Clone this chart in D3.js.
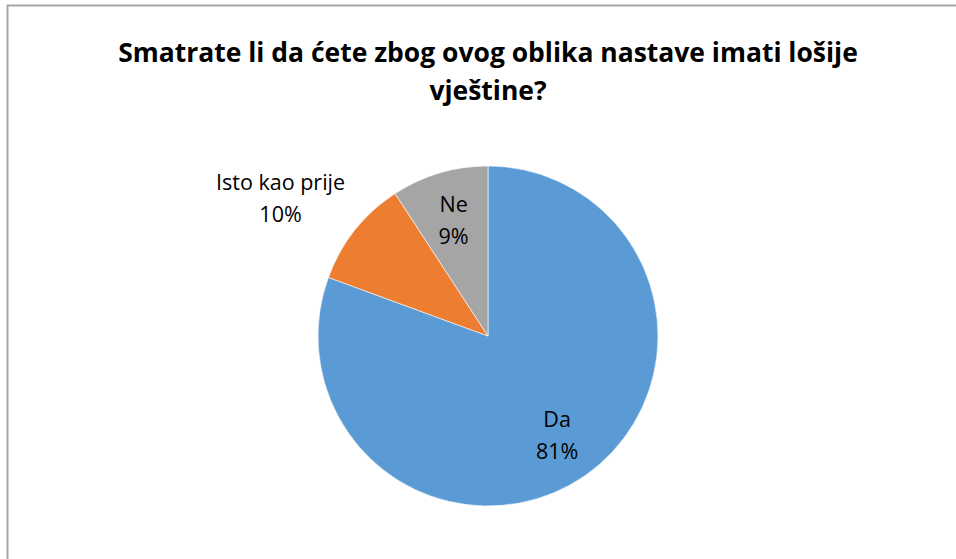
<!DOCTYPE html>
<html>
<head>
<meta charset="utf-8">
<script src="https://cdn.jsdelivr.net/npm/d3@7"></script>
<style>
  body { margin: 0; background: #fff; }
  svg { display: block; }
</style>
</head>
<body>
<div id="chart"></div>
<script>
// data
var categories = ["Da", "Isto kao prije", "Ne"];
var shares = [80.6, 10.2, 9.2];
var pctLabels = ["81%", "10%", "9%"];
var colors = ["#5B9BD5", "#ED7D31", "#A5A5A5"];
var titleLines = ["Smatrate li da ćete zbog ovog oblika nastave imati lošije", "vještine?"];

var width = 956, height = 559;
var cx = 488, cy = 336, radius = 170;

var svg = d3.select("#chart").append("svg")
  .attr("width", width)
  .attr("height", height);

// chart frame (right and bottom edges fall outside the picture)
svg.append("rect")
  .attr("x", 7.5).attr("y", 5.5)
  .attr("width", 1000).attr("height", 600)
  .attr("fill", "none")
  .attr("stroke", "#a6a6a6")
  .attr("stroke-width", 2);

// title
var title = svg.append("g");
title.selectAll("text")
  .data(titleLines)
  .enter().append("text")
  .attr("x", cx)
  .attr("y", function(d, i) { return 62 + i * 38; })
  .attr("text-anchor", "middle")
  .style("font-family", "'Open Sans', 'Liberation Sans', sans-serif")
  .style("font-weight", "bold")
  .style("font-size", "24px")
  .style("fill", "#000")
  .text(function(d) { return d; });

// squeeze the first line to the reference width
var first = title.select("text").node();
var w = first.getComputedTextLength();
var fs = 24 * 740 / w;
title.selectAll("text").style("font-size", fs + "px");

var pie = d3.pie().sort(null).value(function(d) { return d; });
var arcs = pie(shares);

var arc = d3.arc().innerRadius(0).outerRadius(radius);
var inArc = d3.arc().innerRadius(radius * 0.71).outerRadius(radius * 0.71);
var outArc = d3.arc().innerRadius(radius * 1.3).outerRadius(radius * 1.3);

var g = svg.append("g")
  .attr("transform", "translate(" + cx + "," + cy + ")");

g.selectAll("path")
  .data(arcs)
  .enter().append("path")
  .attr("d", arc)
  .attr("fill", function(d, i) { return colors[i]; })
  .attr("stroke", "#fff")
  .attr("stroke-width", 0.6);

// labels: slices big enough get them inside, the middle one outside
var lab = g.selectAll(".lab")
  .data(arcs)
  .enter().append("text")
  .attr("class", "lab")
  .attr("text-anchor", "middle")
  .style("font-family", "'Open Sans', 'Liberation Sans', sans-serif")
  .style("font-size", "21.5px")
  .style("fill", "#000");

lab.each(function(d, i) {
  var t = d3.select(this);
  var p;
  if (i == 1) {
    p = outArc.centroid(d);
  } else {
    p = inArc.centroid(d);
  }
  t.append("tspan").attr("x", 0).attr("dy", -8).text(categories[i]);
  t.append("tspan").attr("x", 0).attr("dy", 32).text(pctLabels[i]);
  var bw = t.node().getBBox().width;
  if (i == 1) p[0] = p[0] - bw / 2 + 30;
  t.attr("transform", "translate(" + p[0] + "," + p[1] + ")");
});
</script>
</body>
</html>
